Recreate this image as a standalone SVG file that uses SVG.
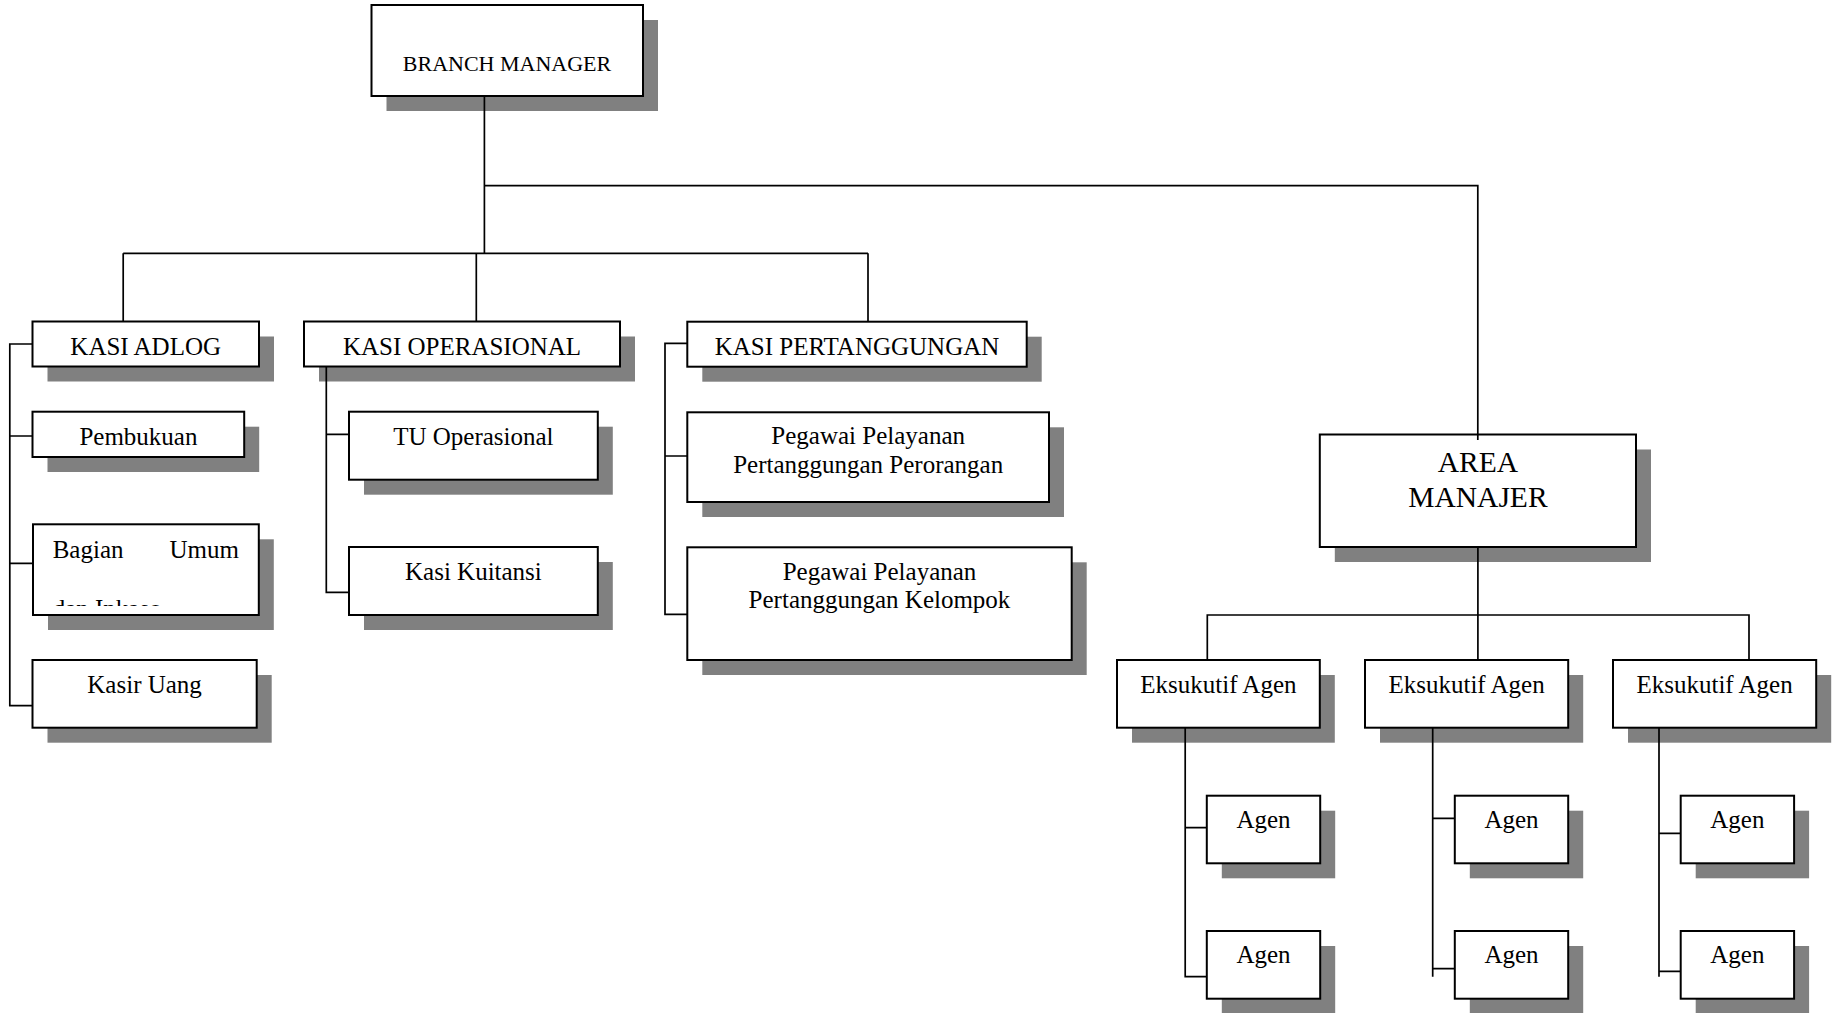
<svg xmlns="http://www.w3.org/2000/svg" width="1838" height="1013" viewBox="0 0 1838 1013">
<style>
.sh{fill:#808080}
.bx{fill:#fff;stroke:#000;stroke-width:2}
.t{font-family:"Liberation Serif","Times New Roman",serif;font-size:25px;fill:#000;text-anchor:middle}
.c{fill:none;stroke:#000;stroke-width:1.7}
</style>
<defs>
<clipPath id="clipBagian"><rect x="33" y="524" width="226" height="82"/></clipPath>
</defs>
<rect width="1838" height="1013" fill="#fff"/>

<g id="branch-manager">
<rect class="sh" x="386.5" y="20" width="271.5" height="91"/>
<rect class="bx" x="371.5" y="5" width="271.5" height="91"/>
<text class="t" x="507" y="70.5" style="font-size:22px">BRANCH MANAGER</text>
</g>

<g id="kasi-adlog">
<rect class="sh" x="47.5" y="336.5" width="226.5" height="45"/>
<rect class="bx" x="32.5" y="321.5" width="226.5" height="45"/>
<text class="t" x="145.7" y="355">KASI ADLOG</text>
</g>
<g id="pembukuan">
<rect class="sh" x="47.5" y="426.7" width="211.7" height="45.3"/>
<rect class="bx" x="32.5" y="411.7" width="211.7" height="45.3"/>
<text class="t" x="138.4" y="445">Pembukuan</text>
</g>
<g id="bagian-umum">
<rect class="sh" x="48" y="539.3" width="225.8" height="90.7"/>
<rect class="bx" x="33" y="524.3" width="225.8" height="90.7"/>
<text class="t" x="52.7" y="557.5" style="text-anchor:start">Bagian</text>
<text class="t" x="239" y="557.5" style="text-anchor:end">Umum</text>
<text class="t" x="52.7" y="616.5" style="text-anchor:start" clip-path="url(#clipBagian)">dan Inkaso</text>
</g>
<g id="kasir-uang">
<rect class="sh" x="47.5" y="675" width="224.2" height="67.7"/>
<rect class="bx" x="32.5" y="660" width="224.2" height="67.7"/>
<text class="t" x="144.6" y="692.7">Kasir Uang</text>
</g>

<g id="kasi-operasional">
<rect class="sh" x="319" y="336.5" width="316" height="45"/>
<rect class="bx" x="304" y="321.5" width="316" height="45"/>
<text class="t" x="462" y="355">KASI OPERASIONAL</text>
</g>
<g id="tu-operasional">
<rect class="sh" x="364" y="426.7" width="248.8" height="68"/>
<rect class="bx" x="349" y="411.7" width="248.8" height="68"/>
<text class="t" x="473.4" y="445">TU Operasional</text>
</g>
<g id="kasi-kuitansi">
<rect class="sh" x="364" y="562" width="248.8" height="68"/>
<rect class="bx" x="349" y="547" width="248.8" height="68"/>
<text class="t" x="473.4" y="580">Kasi Kuitansi</text>
</g>

<g id="kasi-pertanggungan">
<rect class="sh" x="702.3" y="336.7" width="339.4" height="45"/>
<rect class="bx" x="687.3" y="321.7" width="339.4" height="45"/>
<text class="t" x="857" y="355">KASI PERTANGGUNGAN</text>
</g>
<g id="pegawai-perorangan">
<rect class="sh" x="702.3" y="427.3" width="361.7" height="89.7"/>
<rect class="bx" x="687.3" y="412.3" width="361.7" height="89.7"/>
<text class="t" x="868.2" y="444.3">Pegawai Pelayanan</text>
<text class="t" x="868.2" y="473.3">Pertanggungan Perorangan</text>
</g>
<g id="pegawai-kelompok">
<rect class="sh" x="702.3" y="562.3" width="384.4" height="112.7"/>
<rect class="bx" x="687.3" y="547.3" width="384.4" height="112.7"/>
<text class="t" x="879.5" y="580">Pegawai Pelayanan</text>
<text class="t" x="879.5" y="608.3">Pertanggungan Kelompok</text>
</g>

<g id="area-manajer">
<rect class="sh" x="1334.8" y="449.5" width="316.2" height="112.5"/>
<rect class="bx" x="1319.8" y="434.5" width="316.2" height="112.5"/>
<text class="t" x="1477.9" y="471.7" style="font-size:29.5px">AREA</text>
<text class="t" x="1477.9" y="506.7" style="font-size:29.5px">MANAJER</text>
</g>

<g id="eksukutif-agen-1">
<rect class="sh" x="1132" y="675" width="202.8" height="67.7"/>
<rect class="bx" x="1117" y="660" width="202.8" height="67.7"/>
<text class="t" x="1218.4" y="692.7">Eksukutif Agen</text>
</g>
<g id="eksukutif-agen-2">
<rect class="sh" x="1380" y="675" width="203.2" height="67.7"/>
<rect class="bx" x="1365" y="660" width="203.2" height="67.7"/>
<text class="t" x="1466.6" y="692.7">Eksukutif Agen</text>
</g>
<g id="eksukutif-agen-3">
<rect class="sh" x="1628" y="675" width="203.2" height="67.7"/>
<rect class="bx" x="1613" y="660" width="203.2" height="67.7"/>
<text class="t" x="1714.6" y="692.7">Eksukutif Agen</text>
</g>

<g id="agen-1a">
<rect class="sh" x="1221.8" y="810.7" width="113.4" height="67.6"/>
<rect class="bx" x="1206.8" y="795.7" width="113.4" height="67.6"/>
<text class="t" x="1263.5" y="828.3">Agen</text>
</g>
<g id="agen-1b">
<rect class="sh" x="1221.8" y="946" width="113.4" height="67.7"/>
<rect class="bx" x="1206.8" y="931" width="113.4" height="67.7"/>
<text class="t" x="1263.5" y="963.3">Agen</text>
</g>
<g id="agen-2a">
<rect class="sh" x="1469.8" y="810.7" width="113.4" height="67.6"/>
<rect class="bx" x="1454.8" y="795.7" width="113.4" height="67.6"/>
<text class="t" x="1511.5" y="828.3">Agen</text>
</g>
<g id="agen-2b">
<rect class="sh" x="1469.8" y="946" width="113.4" height="67.7"/>
<rect class="bx" x="1454.8" y="931" width="113.4" height="67.7"/>
<text class="t" x="1511.5" y="963.3">Agen</text>
</g>
<g id="agen-3a">
<rect class="sh" x="1695.7" y="810.7" width="113.4" height="67.6"/>
<rect class="bx" x="1680.7" y="795.7" width="113.4" height="67.6"/>
<text class="t" x="1737.4" y="828.3">Agen</text>
</g>
<g id="agen-3b">
<rect class="sh" x="1695.7" y="946" width="113.4" height="67.7"/>
<rect class="bx" x="1680.7" y="931" width="113.4" height="67.7"/>
<text class="t" x="1737.4" y="963.3">Agen</text>
</g>

<g id="connectors" class="c">
<path d="M484.4 96 V253.3"/>
<path d="M484.4 185.7 H1477.8 V440"/>
<path d="M123.2 253.3 H868"/>
<path d="M123.2 253.3 V321.5 M476.3 253.3 V321.5 M868 253.3 V321.7"/>
<path d="M32.5 344 H9.8 V705.7 H32.5 M9.8 436 H32.5 M9.8 563.3 H33"/>
<path d="M326.3 366.5 V592.3 H349 M326.3 434.3 H349"/>
<path d="M687.3 343.3 H665 V614.3 H687.3 M665 456 H687.3"/>
<path d="M1477.9 547 V660"/>
<path d="M1207.3 660 V615 H1749 V660"/>
<path d="M1185.2 727.7 V976.7 H1206.8 M1185.2 827.7 H1206.8"/>
<path d="M1432.7 727.7 V976.7 M1432.7 818.3 H1454.8 M1432.7 968.7 H1454.8"/>
<path d="M1659 727.7 V976.7 M1659 833.3 H1680.7 M1659 971.3 H1680.7"/>
</g>
</svg>
